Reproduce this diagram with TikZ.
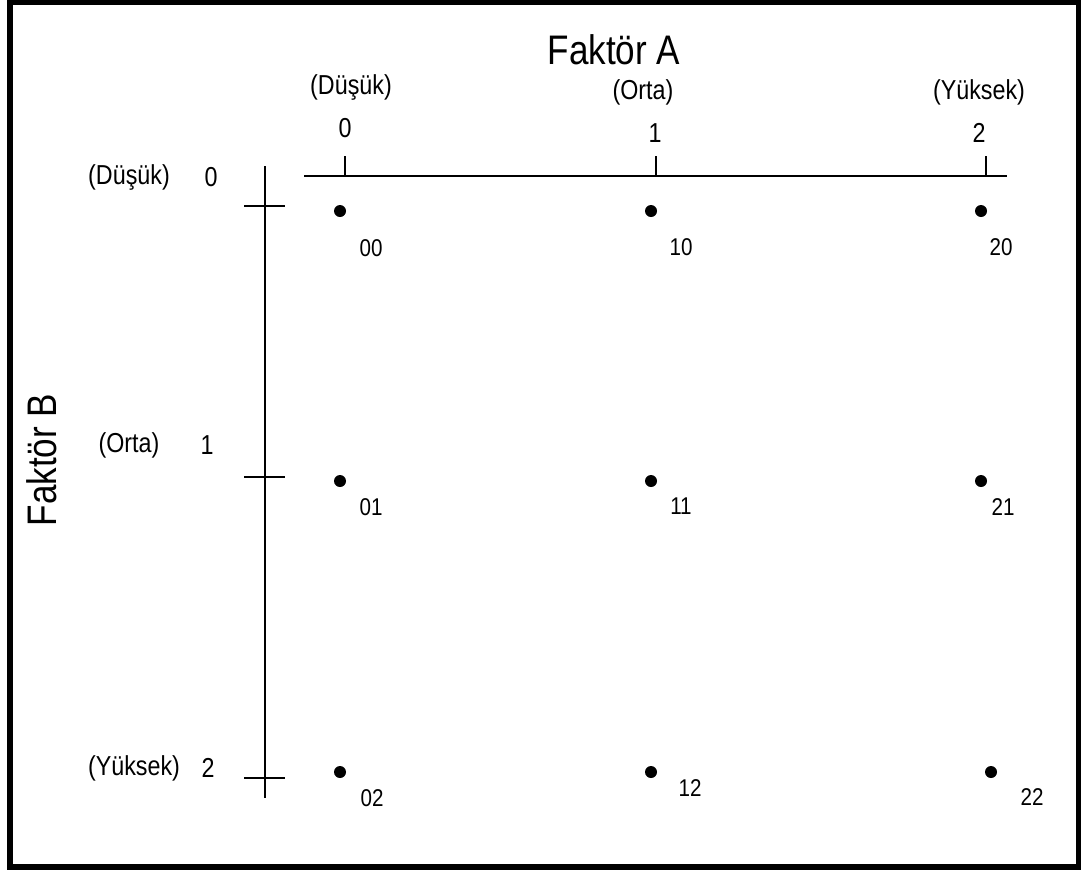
\documentclass[tikz,border=0pt]{standalone}
\usepackage{fontspec}
\setmainfont{Liberation Sans}[FakeStretch=0.85]
\usetikzlibrary{positioning}

\begin{document}
\begin{tikzpicture}[
        x=0.02cm, y=-0.02cm,
        axis/.style={line width=1.1pt},
        frame/.style={line width=3.4pt},
        title/.style={font=\fontsize{23.5}{28}\selectfont, inner sep=0pt},
        level/.style={font=\fontsize{15.6}{18}\selectfont, inner sep=0pt},
        pair/.style={font=\fontsize{13.8}{16}\selectfont, inner sep=0pt},
        pt/.style={circle, fill=black, minimum size=0.24cm, inner sep=0pt}
    ]
        \useasboundingbox (0,0) rectangle (1081,870);

        % Outer frame
        \draw[frame] (10,2) rectangle (1078.5,867);

        % Factor A axis (top) with ticks
        \coordinate (aL) at (304,176);
        \coordinate (aR) at (1007,176);
        \draw[axis] (aL) -- (aR);
        \foreach \i/\x in {0/345, 1/656, 2/986} {
            \coordinate (ta\i) at (\x,176);
            \draw[axis] (ta\i) -- ++(0,-20);
        }

        % Factor B axis (left) with ticks
        \coordinate (bT) at (265,166);
        \coordinate (bB) at (265,798);
        \draw[axis] (bT) -- (bB);
        \foreach \i/\y in {0/206, 1/477, 2/778} {
            \coordinate (tb\i) at (265,\y);
            \draw[axis] ([xshift=-0.42cm]tb\i) -- ([xshift=0.4cm]tb\i);
        }

        % Axis titles
        \node[title] (facA) at (614,50) {Faktör A};
        \node[title, rotate=90] (facB) at (42,460) {Faktör B};

        % Factor A levels
        \node[level] (aLow) at (351,87) {(Düşük)};
        \node[level] (aMid) at (643,92) {(Orta)};
        \node[level] (aHigh) at (979,92) {(Yüksek)};
        \node[level] (a0) at (345,128) {0};
        \node[level] (a1) at (655,133) {1};
        \node[level] (a2) at (979,133) {2};

        % Factor B levels
        \node[level] (bLow) at (129,177) {(Düşük)};
        \node[level] (bMid) at (129,445) {(Orta)};
        \node[level] (bHigh) at (134,768) {(Yüksek)};
        \node[level] (b0) at (211,177) {0};
        \node[level] (b1) at (207,445) {1};
        \node[level] (b2) at (208,768) {2};

        % Treatment combinations
        \foreach \n/\x/\y/\lx/\ly in {
            00/340/211/371/248, 10/651/211/681/247, 20/981/211/1001/247,
            01/340/481/371/507, 11/651/481/681/506, 21/981/481/1003/507,
            02/340/772/372/798, 12/651/772/690/788, 22/991/772/1032/797} {
            \node[pt] (p\n) at (\x,\y) {};
            \node[pair] (l\n) at (\lx,\ly) {\n};
        }
    \end{tikzpicture}
\end{document}
